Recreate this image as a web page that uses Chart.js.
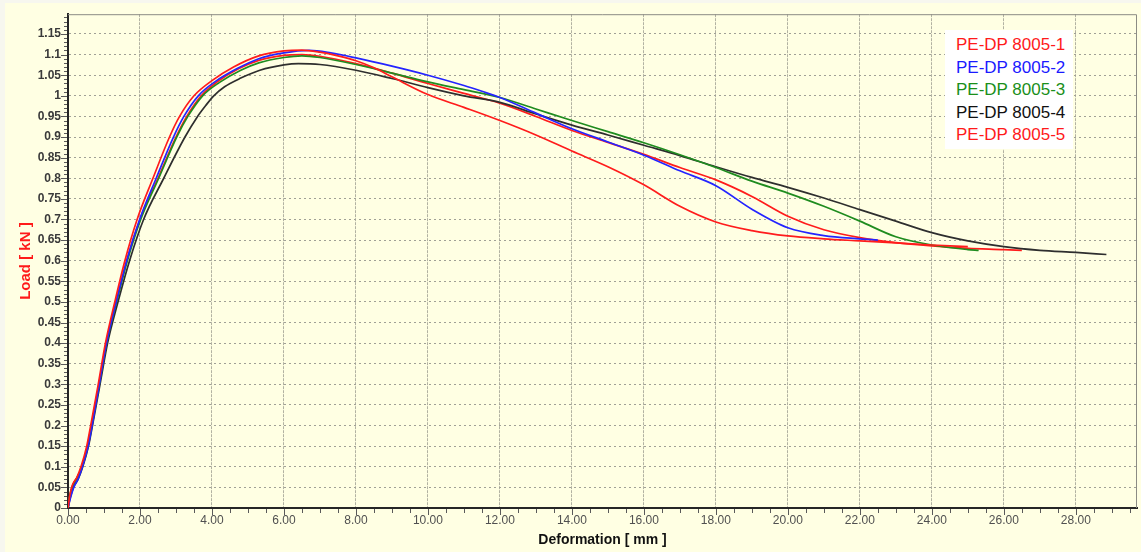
<!DOCTYPE html>
<html>
<head>
<meta charset="utf-8">
<script src="https://cdn.jsdelivr.net/npm/chart.js@4"></script>
<style>
  html, body { margin: 0; padding: 0; background: #f7f7ef; }
  #wrap { position: relative; width: 1141px; height: 552px; }
  #legend {
    position: absolute; left: 945px; top: 30px; width: 128px; height: 119px;
    background: #fff; box-sizing: border-box; padding: 4px 0 0 11px;
    font: 17px "Liberation Sans", Arial, sans-serif; line-height: 22.5px; white-space: nowrap;
  }
</style>
</head>
<body>
<div id="wrap">
  <canvas id="chart" width="1141" height="552"></canvas>
  <div id="legend"></div>
</div>
<script>
// deformation (mm), load (kN)
const dp1 = [[0,0],[0.05,0.03],[0.12,0.055],[0.25,0.075],[0.36,0.1],[0.52,0.15],[0.63,0.2],[0.84,0.3],[1.04,0.4],[1.3,0.5],[1.58,0.6],[1.92,0.7],[2.36,0.8],[2.82,0.9],[3.1,0.95],[3.5,1.0],[4.0,1.037],[4.6,1.07],[5.3,1.097],[6.0,1.109],[6.5,1.111],[7.0,1.106],[7.5,1.097],[8.0,1.085],[8.5,1.068],[9.0,1.046],[10.0,1.003],[11.0,0.972],[12.0,0.94],[13.0,0.905],[14.0,0.866],[15.0,0.828],[16.0,0.784],[17.0,0.732],[18.0,0.694],[19.0,0.673],[20.0,0.66],[21.0,0.653],[22.0,0.648],[23.0,0.643],[24.0,0.638],[25.0,0.634]];
const dp2 = [[0,0],[0.07,0.025],[0.16,0.05],[0.28,0.07],[0.4,0.1],[0.56,0.15],[0.67,0.2],[0.87,0.3],[1.07,0.4],[1.34,0.5],[1.63,0.6],[1.99,0.7],[2.45,0.8],[2.93,0.9],[3.22,0.95],[3.62,1.0],[4.1,1.035],[4.7,1.066],[5.3,1.09],[6.0,1.104],[6.7,1.11],[7.3,1.104],[8.0,1.092],[9.0,1.072],[10.0,1.05],[11.0,1.025],[11.5,1.011],[12.0,0.996],[13.0,0.958],[14.0,0.92],[15.0,0.888],[16.0,0.856],[17.0,0.818],[18.0,0.782],[19.0,0.725],[20.0,0.68],[21.0,0.661],[22.0,0.653],[22.5,0.65]];
const dp3 = [[0,0],[0.05,0.03],[0.14,0.055],[0.26,0.075],[0.39,0.1],[0.55,0.15],[0.66,0.2],[0.87,0.3],[1.07,0.4],[1.35,0.5],[1.65,0.6],[2.02,0.7],[2.52,0.8],[3.02,0.9],[3.33,0.95],[3.74,1.0],[4.2,1.032],[4.8,1.062],[5.3,1.08],[6.0,1.093],[6.5,1.097],[7.0,1.093],[8.0,1.076],[9.0,1.055],[10.0,1.034],[11.0,1.015],[12.0,0.996],[13.0,0.968],[14.0,0.94],[15.0,0.913],[16.0,0.886],[17.0,0.857],[18.0,0.826],[19.0,0.793],[20.0,0.764],[21.0,0.732],[22.0,0.696],[23.0,0.658],[24.0,0.638],[25.0,0.627],[25.3,0.625]];
const dp4 = [[0,0],[0.06,0.025],[0.15,0.05],[0.28,0.07],[0.41,0.1],[0.57,0.15],[0.68,0.2],[0.89,0.3],[1.1,0.4],[1.39,0.5],[1.71,0.6],[2.1,0.7],[2.66,0.8],[3.25,0.9],[3.6,0.95],[3.84,0.978],[4.05,1.0],[4.35,1.022],[4.8,1.043],[5.33,1.062],[6.0,1.075],[6.4,1.078],[7.0,1.076],[8.0,1.062],[9.0,1.042],[10.0,1.02],[11.0,1.0],[12.0,0.984],[13.0,0.956],[14.0,0.929],[15.0,0.905],[16.0,0.88],[17.0,0.855],[18.0,0.828],[19.0,0.802],[20.0,0.778],[21.0,0.752],[22.0,0.724],[23.0,0.696],[24.0,0.668],[25.0,0.648],[26.0,0.634],[27.0,0.625],[28.0,0.62],[28.85,0.615]];
const dp5 = [[0,0],[0.05,0.03],[0.13,0.055],[0.26,0.075],[0.38,0.1],[0.54,0.15],[0.65,0.2],[0.86,0.3],[1.06,0.4],[1.34,0.5],[1.63,0.6],[2.0,0.7],[2.5,0.8],[3.0,0.9],[3.3,0.95],[3.7,1.0],[4.15,1.034],[4.75,1.066],[5.3,1.086],[6.0,1.098],[6.5,1.1],[7.0,1.096],[8.0,1.078],[9.0,1.055],[10.0,1.03],[11.0,1.006],[12.0,0.982],[13.0,0.95],[14.0,0.916],[15.0,0.887],[16.0,0.858],[17.0,0.826],[18.0,0.796],[19.0,0.756],[20.0,0.708],[21.0,0.675],[22.0,0.656],[23.0,0.644],[24.0,0.636],[25.0,0.63],[26.0,0.627],[26.5,0.625]];

const seriesNames = ['PE-DP 8005-1', 'PE-DP 8005-2', 'PE-DP 8005-3', 'PE-DP 8005-4', 'PE-DP 8005-5'];
const seriesData = [dp1, dp2, dp3, dp4, dp5];

const xMin = 0, xMax = 29.7, xStep = 2;
const yMin = 0, yMax = 1.198, yStep = 0.05;

const lineColors = ['#ff1c1c', '#2424ff', '#1f8c1f', '#2e2e2e', '#ff1c1c'];
const textColors = ['#ff1a1a', '#1a1aff', '#1a8f1a', '#111111', '#ff1a1a'];
const FONT = '"Liberation Sans", Arial, sans-serif';

// keep only the regular steps (drops the extra tick chart.js adds at max)
function keepSteps(step) {
    return scale => {
        scale.ticks = scale.ticks.filter(t => Math.abs(t.value / step - Math.round(t.value / step)) < 1e-6);
    };
}

const frame = {
    id: 'frame',
    beforeDraw(chart) {
        const ctx = chart.ctx;
        ctx.save();
        ctx.fillStyle = '#f7f7ef';
        ctx.fillRect(0, 0, chart.width, chart.height);
        ctx.fillStyle = '#ffffe3';
        ctx.fillRect(5, 3, chart.width - 5, chart.height - 3);
        ctx.restore();
    },
    beforeDatasetsDraw(chart) {
        const { ctx, chartArea: a } = chart;
        ctx.save();
        ctx.strokeStyle = '#8c8c84';
        ctx.lineWidth = 1;
        ctx.beginPath();
        ctx.moveTo(a.left, a.top + 0.5);
        ctx.lineTo(a.right - 0.5, a.top + 0.5);
        ctx.lineTo(a.right - 0.5, a.bottom);
        ctx.stroke();
        ctx.restore();
    },
    afterDraw(chart) {
        // major + minor tick marks outside the plot
        const { ctx, chartArea: a, scales } = chart;
        ctx.save();
        ctx.strokeStyle = '#5a5a5a';
        ctx.lineWidth = 1;
        ctx.beginPath();
        for (let i = 0; i * 0.5 <= xMax; i++) {
            const px = Math.round(scales.x.getPixelForValue(i * 0.5)) + 0.5;
            const len = i % 4 === 0 ? 6 : 4;
            ctx.moveTo(px, a.bottom + 1);
            ctx.lineTo(px, a.bottom + 1 + len);
        }
        for (let i = 0; i * 0.01 <= yMax; i++) {
            const py = Math.round(scales.y.getPixelForValue(i * 0.01)) + 0.5;
            const len = i % 5 === 0 ? 6 : 3;
            ctx.moveTo(a.left - 1, py);
            ctx.lineTo(a.left - 1 - len, py);
        }
        ctx.stroke();
        ctx.restore();
    }
};

new Chart(document.getElementById('chart'), {
    type: 'line',
    data: {
        datasets: seriesData.map((pts, i) => ({
            label: seriesNames[i],
            data: pts.map(p => ({ x: p[0], y: p[1] })),
            borderColor: lineColors[i],
            borderWidth: 1.7,
            pointRadius: 0,
            fill: false,
            cubicInterpolationMode: 'monotone'
        }))
    },
    options: {
        responsive: false,
        devicePixelRatio: 1,
        animation: false,
        layout: { padding: { left: 5, top: 9, right: 4, bottom: 0 } },
        plugins: { legend: { display: false }, tooltip: { enabled: false } },
        scales: {
            x: {
                type: 'linear', min: xMin, max: xMax,
                afterFit: s => { s.height = 44; },
                afterBuildTicks: keepSteps(xStep),
                ticks: {
                    stepSize: xStep, maxRotation: 0, autoSkip: false, padding: 5,
                    color: '#505050', font: { family: FONT, size: 12 },
                    callback: v => Number(v).toFixed(2)
                },
                grid: { color: '#b2b2a2', lineWidth: 1, drawTicks: false },
                border: { color: '#262626', width: 2, dash: [3, 1] },
                title: {
                    display: true, text: 'Deformation [ mm ]', color: '#111',
                    font: { family: FONT, size: 14, weight: 'bold' }, padding: { top: 0, bottom: 3 }
                }
            },
            y: {
                min: yMin, max: yMax,
                afterFit: s => { s.width = 63; },
                afterBuildTicks: keepSteps(yStep),
                ticks: {
                    stepSize: yStep, autoSkip: false, padding: 7,
                    color: '#3a3a3a', font: { family: FONT, size: 12, weight: 'bold' },
                    callback: v => String(Number(Number(v).toFixed(2)))
                },
                grid: { color: '#a0a096', lineWidth: 1, drawTicks: false },
                border: { color: '#262626', width: 2, dash: [2, 3] },
                title: {
                    display: true, text: 'Load [ kN ]', color: '#ff1a1a',
                    font: { family: FONT, size: 15, weight: 'bold' }, padding: { top: 12, bottom: 0 }
                }
            }
        }
    },
    plugins: [frame]
});

document.getElementById('legend').innerHTML = seriesNames
    .map((name, i) => `<div style="color:${textColors[i]}">${name}</div>`).join('');
</script>
</body>
</html>
